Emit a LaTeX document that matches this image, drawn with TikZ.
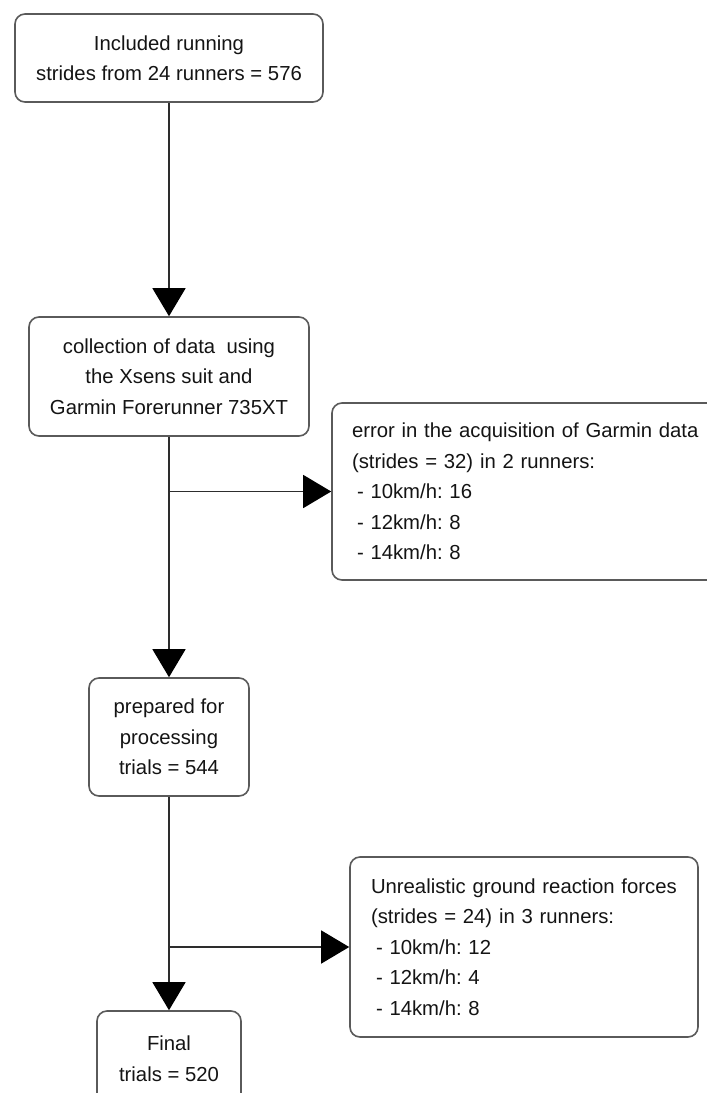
\documentclass[tikz,border=0pt]{standalone}
\usepackage{fontspec}
\setmainfont{Liberation Sans}
\usetikzlibrary{arrows.meta}
\definecolor{boxgray}{RGB}{90,90,90}
\definecolor{conngray}{RGB}{45,45,45}
\definecolor{txt}{RGB}{20,20,20}
\frenchspacing
\begin{document}
\begin{tikzpicture}[x=1pt,y=-1pt,
  box/.style={draw=boxgray, line width=1.6pt, rounded corners=10pt, fill=white,
    inner sep=0pt, font=\fontsize{20.3}{30.5}\selectfont, align=center, text=txt},
  sidebox/.style={box, align=left},
  conn/.style={draw=conngray, line width=1.4pt},
  arr/.style={conn, -{Triangle[length=28pt,width=33pt,color=black,fill=black]}}]
\useasboundingbox (0,0) rectangle (707,1093);
\clip (0,0) rectangle (707,1093);
\fill[white] (0,0) rectangle (707,1093);

\node[box, minimum width=308pt, minimum height=88pt] (n1) at (169,58)
  {Included running\\strides from 24 runners = 576};
\node[box, minimum width=280pt, minimum height=119pt] (n2) at (169,376.5)
  {collection of data\ \ using\\the Xsens suit and\\Garmin Forerunner 735XT};
\node[box, minimum width=160pt, minimum height=118pt] (n3) at (169,737)
  {prepared for\\processing\\trials = 544};
\node[box, minimum width=144pt, minimum height=95pt] (n4) at (169,1058.5)
  {Final\\trials = 520};
\node[sidebox, text width=348pt, minimum width=388pt, minimum height=177pt] (e1) at (526,491.5)
  {error in the acquisition of Garmin data\\(strides = 32) in 2 runners:\\\hspace*{5pt}- 10km/h: 16\\\hspace*{5pt}- 12km/h: 8\\\hspace*{5pt}- 14km/h: 8};
\node[sidebox, text width=306pt, minimum width=348pt, minimum height=180pt] (e2) at (524,947)
  {Unrealistic ground reaction forces\\(strides = 24) in 3 runners:\\\hspace*{5pt}- 10km/h: 12\\\hspace*{5pt}- 12km/h: 4\\\hspace*{5pt}- 14km/h: 8};

\draw[arr] (n1.south) -- (n2.north);
\draw[arr] (n2.south) -- (n3.north);
\draw[arr] (n3.south) -- (n4.north);
\coordinate (b1) at (n2.south |- e1.west);
\coordinate (b2) at (n3.south |- e2.west);
\draw[arr] (b1) -- (e1.west);
\draw[arr] (b2) -- (e2.west);
\end{tikzpicture}
\end{document}
